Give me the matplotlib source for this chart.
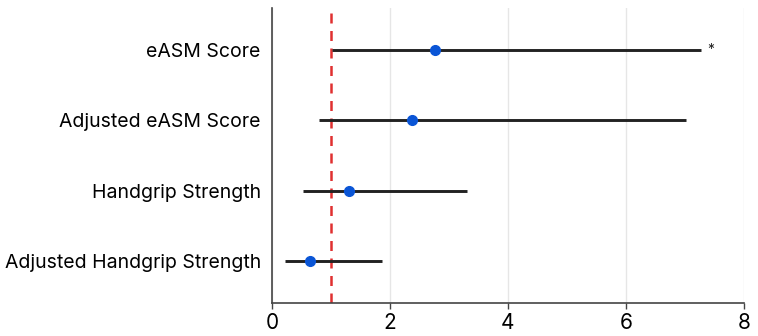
import matplotlib
matplotlib.use("Agg")
import matplotlib.pyplot as plt

labels = ["eASM Score", "Adjusted eASM Score", "Handgrip Strength", "Adjusted Handgrip Strength"]
estimates = [2.76, 2.38, 1.30, 0.64]
lower = [1.01, 0.80, 0.53, 0.225]
upper = [7.28, 7.02, 3.31, 1.86]
signif = ["*", "", "", ""]
xticks = [0, 2, 4, 6, 8]

plt.rcParams['font.family'] = ['Inter', 'DejaVu Sans']
fig = plt.figure(figsize=(7.58, 3.36), dpi=100)
ax = fig.add_axes([0.3588, 0.098, 0.6227, 0.878])

ypos = list(range(len(labels)))[::-1]
for y, e, lo, hi, s in zip(ypos, estimates, lower, upper, signif):
    ax.plot([lo, hi], [y, y], color="#222222", lw=2.1, solid_capstyle="butt", zorder=3)
    ax.plot([e], [y], "o", color="#0a55d6", ms=7, zorder=4)
    if s:
        ax.text(hi + 0.1, y, s, ha="left", va="center", fontsize=10, color="#222222")

ax.axvline(1, color="#e03030", ls=(0, (4, 3)), lw=1.8, zorder=2)

ax.set_xlim(0, 8)
ax.set_ylim(-0.6, 3.6)
ax.set_xticks(xticks)
ax.set_xticklabels([str(t) for t in xticks], fontsize=15)
ax.set_yticks(ypos)
ax.set_yticklabels(labels, fontsize=14)
ax.tick_params(axis="y", length=0, pad=8)
ax.tick_params(axis="x", length=4, width=1, color="#444444", pad=3)
ax.grid(axis="x", color="#e6e6e6", lw=1)
ax.set_axisbelow(True)
for sp in ["top", "right"]:
    ax.spines[sp].set_visible(False)
for sp in ["left", "bottom"]:
    ax.spines[sp].set_color("#444444")
    ax.spines[sp].set_linewidth(1.2)

fig.savefig("out.png", dpi=100)
